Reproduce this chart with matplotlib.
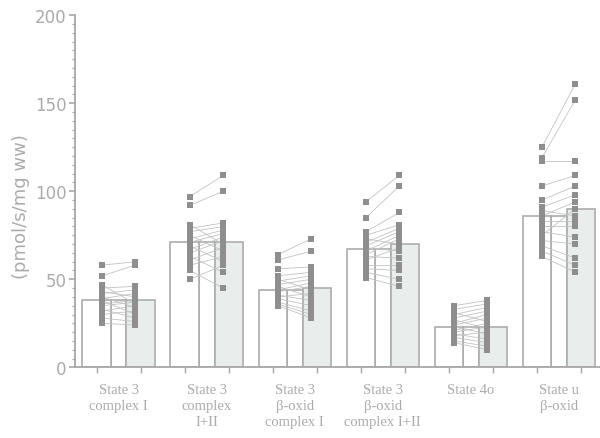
import matplotlib
matplotlib.use("Agg")
import matplotlib.pyplot as plt
import numpy as np
from matplotlib.ticker import MultipleLocator

# --- Group labels and bar means (pmol/s/mg ww) ---
groups = [
    "State 3\ncomplex I",
    "State 3\ncomplex\nI+II",
    "State 3\nβ-oxid\ncomplex I",
    "State 3\nβ-oxid\ncomplex I+II",
    "State 4o",
    "State u\nβ-oxid",
]
mean_before = [38, 71, 44, 67, 23, 86]
mean_after = [38, 71, 45, 70, 23, 90]

# --- Paired individual values, one list per group ---
before = [
    [58, 52, 47, 45, 43, 42, 40, 39, 38, 36, 35, 33, 32, 30, 28, 25],
    [97, 92, 81, 79, 77, 75, 73, 71, 69, 67, 65, 63, 61, 58, 55, 50],
    [64, 61, 56, 52, 50, 49, 47, 46, 44, 43, 41, 40, 39, 37, 36, 35],
    [94, 85, 77, 75, 73, 71, 69, 68, 66, 64, 63, 61, 58, 56, 54, 51],
    [35, 33, 31, 30, 28, 27, 25, 24, 23, 21, 20, 19, 18, 17, 15, 14],
    [125, 119, 117, 103, 95, 91, 89, 86, 83, 80, 77, 75, 72, 69, 66, 63],
]
after = [
    [60, 58, 36, 46, 40, 44, 34, 42, 30, 38, 37, 28, 35, 32, 26, 24],
    [109, 100, 70, 82, 80, 66, 78, 76, 60, 74, 72, 54, 68, 63, 45, 58],
    [73, 66, 57, 54, 44, 52, 50, 40, 48, 46, 38, 42, 35, 32, 30, 28],
    [109, 103, 88, 81, 70, 79, 77, 66, 75, 73, 62, 68, 58, 55, 50, 46],
    [38, 36, 26, 34, 32, 22, 30, 28, 19, 25, 23, 16, 20, 14, 12, 10],
    [161, 152, 117, 109, 103, 98, 86, 94, 83, 80, 74, 90, 70, 62, 58, 54],
]

AXIS_GREY = "#a8a8a8"
EDGE_GREY = "#acacac"
POINT_GREY = "#8e8e8e"
LINE_GREY = "#c2c2c2"
FILL_AFTER = "#e9eeec"
TEXT_GREY = "#ababab"

fig = plt.figure(figsize=(6.0, 4.39), dpi=100)
ax = fig.add_axes([0.125, 0.161, 0.875, 0.802])

width = 0.64
shift = 0.12

for i in range(len(groups)):
    xb = 2 * i
    xa = 2 * i + 1
    # grey "after" bar, white "before" bar, and the white strip between them
    ax.bar(xa, mean_after[i], width=width, color=FILL_AFTER,
           edgecolor=EDGE_GREY, linewidth=1.2, zorder=1)
    ax.bar(xb, mean_before[i], width=width, color="white",
           edgecolor=EDGE_GREY, linewidth=1.2, zorder=1)
    gap_left = xb + width / 2
    gap_right = xa - width / 2
    ax.bar((gap_left + gap_right) / 2, mean_before[i],
           width=gap_right - gap_left, color="white",
           edgecolor=EDGE_GREY, linewidth=1.2, zorder=0.9)

    # paired points joined by thin lines
    b = np.array(before[i])
    a = np.array(after[i])
    for yb, ya in zip(b, a):
        ax.plot([xb + shift, xa - shift], [yb, ya], color=LINE_GREY,
                linewidth=0.6, zorder=2)
    ax.plot(np.full(len(b), xb + shift), b, "s", color=POINT_GREY,
            markersize=4, markeredgewidth=0, zorder=3)
    ax.plot(np.full(len(a), xa - shift), a, "s", color=POINT_GREY,
            markersize=4, markeredgewidth=0, zorder=3)

    ax.text(2 * i + 0.5, -9, groups[i], ha="center", va="top",
            family="Liberation Serif", fontsize=10.5, color=TEXT_GREY,
            linespacing=1.3)

ax.set_xlim(-0.49, 11.44)
ax.set_ylim(0, 200)
ax.set_xticks(range(12))
ax.set_xticklabels([])
ax.yaxis.set_major_locator(MultipleLocator(50))
ax.yaxis.set_minor_locator(MultipleLocator(5))

for side in ["top", "right"]:
    ax.spines[side].set_visible(False)
for side in ["left", "bottom"]:
    ax.spines[side].set_color(AXIS_GREY)
    ax.spines[side].set_linewidth(1.3)

ax.tick_params(axis="both", which="both", direction="out", colors=AXIS_GREY)
ax.tick_params(axis="y", which="major", length=4, width=1.2, labelsize=12,
               labelcolor=TEXT_GREY, pad=2)
ax.tick_params(axis="y", which="minor", length=2.5, width=0.9)
ax.tick_params(axis="x", which="major", length=4, width=1.0)

ax.set_ylabel("(pmol/s/mg ww)", fontsize=13, color=TEXT_GREY)
ax.yaxis.set_label_coords(-0.085, 0.46)

fig.savefig("out.png", dpi=100)
